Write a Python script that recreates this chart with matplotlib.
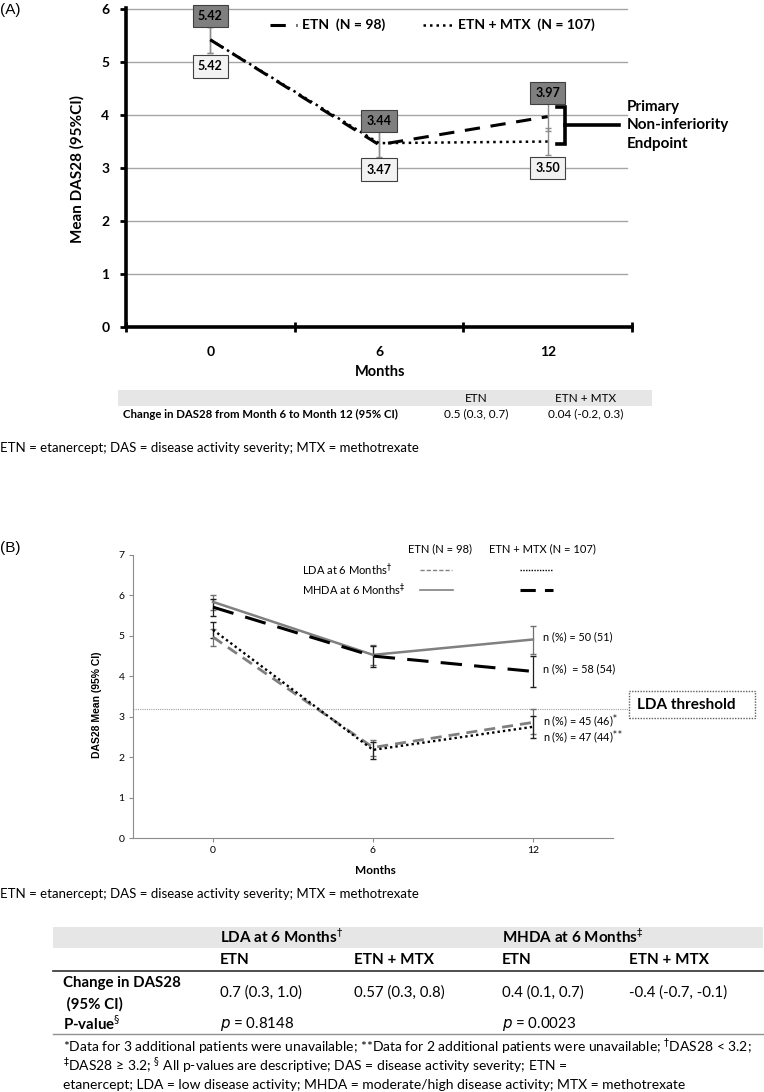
import matplotlib
matplotlib.use("Agg")
import matplotlib.pyplot as plt
from matplotlib.lines import Line2D
from matplotlib.patches import Rectangle

W, H = 764, 1092

# ---- panel A data
months = ["0", "6", "12"]
etn_mean = [5.42, 3.44, 3.97]
etn_lo = [5.17, 3.19, 3.70]
etn_hi = [5.67, 3.70, 4.24]
mtx_mean = [5.42, 3.47, 3.50]
mtx_lo = [5.17, 3.21, 3.24]
mtx_hi = [5.67, 3.73, 3.76]
legend_a = ["ETN  (N = 98)", "ETN + MTX  (N = 107)"]
tab_a_cols = ["ETN", "ETN + MTX"]
tab_a_row = "Change in DAS28 from Month 6 to Month 12 (95% CI)"
tab_a_vals = ["0.5 (0.3, 0.7)", "0.04 (-0.2, 0.3)"]

# ---- panel B data
lda_etn = [4.97, 2.24, 2.86]
lda_etn_lo = [4.74, 2.02, 2.58]
lda_etn_hi = [5.18, 2.42, 3.18]
lda_mtx = [5.15, 2.18, 2.75]
lda_mtx_lo = [4.95, 1.95, 2.48]
lda_mtx_hi = [5.34, 2.38, 3.03]
mhda_etn = [5.84, 4.53, 4.91]
mhda_etn_lo = [5.65, 4.28, 4.55]
mhda_etn_hi = [6.02, 4.78, 5.24]
mhda_mtx = [5.71, 4.50, 4.12]
mhda_mtx_lo = [5.50, 4.23, 3.73]
mhda_mtx_hi = [5.90, 4.75, 4.49]
n_labels = ["n (%) = 50 (51)", "n (%)  = 58 (54)",
            "n (%) = 45 (46)$^{*}$", "n (%) = 47 (44)$^{**}$"]
lda_threshold = 3.2

tab_b_groups = [r"LDA at 6 Months$^{\dagger}$", r"MHDA at 6 Months$^{\ddagger}$"]
tab_b_cols = ["ETN", "ETN + MTX", "ETN", "ETN + MTX"]
tab_b_change = ["0.7 (0.3, 1.0)", "0.57 (0.3, 0.8)", "0.4 (0.1, 0.7)", "-0.4 (-0.7, -0.1)"]
tab_b_p = [r"$p$ = 0.8148", r"$p$ = 0.0023"]

abbrev = "ETN = etanercept; DAS = disease activity severity; MTX = methotrexate"
notes_b = [
    r"*Data for 3 additional patients were unavailable; **Data for 2 additional patients were unavailable; $^{\dagger}$DAS28 < 3.2;",
    r"$^{\ddagger}$DAS28 ≥ 3.2; $^{\S}$ All p-values are descriptive; DAS = disease activity severity; ETN =",
    "etanercept; LDA = low disease activity; MHDA = moderate/high disease activity; MTX = methotrexate",
]

plt.rcParams["font.family"] = ["Lato", "DejaVu Sans"]

fig = plt.figure(figsize=(W / 100, H / 100), dpi=100)


def ftext(x, y, s, **kw):
    return fig.text(x / W, 1 - y / H, s, **kw)


def fline(xs, ys, **kw):
    fig.add_artist(Line2D([x / W for x in xs], [1 - y / H for y in ys],
                          transform=fig.transFigure, **kw))


def fbox(x0, y0, x1, y1, **kw):
    fig.add_artist(Rectangle((x0 / W, 1 - y1 / H), (x1 - x0) / W, (y1 - y0) / H,
                             transform=fig.transFigure, **kw))


x = [0, 1, 2]

# ================= panel A =================
ftext(0, 10, "(A)", fontsize=11, family="Liberation Sans", va="center")
axA = fig.add_axes([126 / W, 1 - 327 / H, (632 - 126) / W, (327 - 8) / H])
axA.set_xlim(-0.5, 2.5)
axA.set_ylim(0, 6.02)
for v in range(1, 7):
    axA.axhline(v, xmax=0.99, color="#a6a6a6", lw=1, zorder=0)
for s in ["top", "right"]:
    axA.spines[s].set_visible(False)
for s in ["left", "bottom"]:
    axA.spines[s].set_linewidth(2.6)
axA.set_xticks(x)
axA.set_xticklabels(months, fontsize=10, weight="bold")
axA.set_xticks([-0.5, 0.5, 1.5, 2.5], minor=True)
axA.tick_params(axis="x", which="major", length=0, pad=14)
axA.tick_params(axis="x", which="minor", length=7, width=2, direction="inout")
axA.set_yticks(range(7))
axA.set_yticklabels([str(v) for v in range(7)], fontsize=10, weight="bold")
axA.tick_params(axis="y", length=4, width=2, pad=8)

axA.errorbar(x, etn_mean, yerr=[[m - l for m, l in zip(etn_mean, etn_lo)],
                                [h - m for m, h in zip(etn_mean, etn_hi)]],
             fmt="none", ecolor="#8c8c8c", elinewidth=1, capsize=2.5, zorder=2)
axA.errorbar(x, mtx_mean, yerr=[[m - l for m, l in zip(mtx_mean, mtx_lo)],
                                [h - m for m, h in zip(mtx_mean, mtx_hi)]],
             fmt="none", ecolor="#8c8c8c", elinewidth=1, capsize=2.5, zorder=2)
axA.plot(x, etn_mean, color="black", lw=2.2, dashes=(5, 3.5), zorder=3)
axA.plot(x, mtx_mean, color="black", lw=1.8, ls=(0, (1, 1.6)), zorder=3)

for xi, v in zip(x, etn_mean):
    axA.text(xi, v + 0.45, f"{v:.2f}", ha="center", va="center", fontsize=9,
             weight="bold", zorder=5,
             bbox=dict(boxstyle="square,pad=0.42", fc="#7f7f7f", ec="#404040", lw=0.8))
for xi, v in zip(x, mtx_mean):
    axA.text(xi, v - 0.5, f"{v:.2f}", ha="center", va="center", fontsize=9,
             weight="bold", zorder=5,
             bbox=dict(boxstyle="square,pad=0.42", fc="#f2f2f2", ec="#404040", lw=0.8))

# legend A
axA.plot([0.354, 0.514], [5.70, 5.70], color="black", lw=2.2, dashes=(5, 3.5))
axA.text(0.545, 5.70, legend_a[0], va="center", fontsize=10, weight="bold")
axA.plot([1.26, 1.45], [5.70, 5.70], color="black", lw=1.8, ls=(0, (1, 1.6)))
axA.text(1.47, 5.70, legend_a[1], va="center", fontsize=10, weight="bold")

# bracket for the primary endpoint
yb_top, yb_bot = etn_mean[2] + 0.19, mtx_mean[2] - 0.05
yb_mid = (yb_top + yb_bot) / 2
axA.plot([2.055, 2.10, 2.10, 2.055], [yb_top, yb_top, yb_bot, yb_bot],
         color="black", lw=2.6, clip_on=False, solid_joinstyle="miter")
axA.plot([2.10, 2.42], [yb_mid, yb_mid], color="black", lw=2.6, clip_on=False)
axA.text(2.47, yb_mid, "Primary\nNon-inferiority\nEndpoint", va="center", ha="left",
         fontsize=11, weight="bold", linespacing=1.4)

ftext(77, 169, "Mean DAS28 (95%CI)", rotation=90, ha="center", va="center",
      fontsize=11, weight="bold")
ftext(380, 372, "Months", ha="center", va="center", fontsize=10.5, weight="bold")

# table A
fbox(118, 390, 652, 406, fc="#e6e6e6", ec="none")
for cx, c in zip([476, 586], tab_a_cols):
    ftext(cx, 398, c, ha="center", va="center", fontsize=8.5)
ftext(123, 414, tab_a_row, va="center", fontsize=8.2, weight="bold")
for cx, c in zip([476, 586], tab_a_vals):
    ftext(cx, 414, c, ha="center", va="center", fontsize=8.5)
ftext(0, 448, abbrev, va="center", fontsize=9.5)

# ================= panel B =================
ftext(0, 548, "(B)", fontsize=11, family="Liberation Sans", va="center")
axB = fig.add_axes([133 / W, 1 - 838 / H, (613 - 133) / W, (838 - 555) / H])
axB.set_xlim(-0.5, 2.5)
axB.set_ylim(0, 7)
for s in ["top", "right"]:
    axB.spines[s].set_visible(False)
for s in ["left", "bottom"]:
    axB.spines[s].set_color("#8c8c8c")
    axB.spines[s].set_linewidth(0.8)
axB.set_xticks(x)
axB.set_xticklabels(months, fontsize=7.5)
axB.set_yticks(range(8))
axB.set_yticklabels([str(v) for v in range(8)], fontsize=7.5)
axB.tick_params(length=3, width=0.8, color="#8c8c8c", pad=3)

series = [
    (lda_etn, lda_etn_lo, lda_etn_hi, dict(color="#808080", lw=2.0, dashes=(4, 2.5)), "#707070"),
    (lda_mtx, lda_mtx_lo, lda_mtx_hi, dict(color="black", lw=1.7, ls=(0, (1, 1.3))), "#202020"),
    (mhda_etn, mhda_etn_lo, mhda_etn_hi, dict(color="#808080", lw=1.8), "#707070"),
    (mhda_mtx, mhda_mtx_lo, mhda_mtx_hi, dict(color="black", lw=2.2, dashes=(7, 4)), "#202020"),
]
for mean, lo, hi, style, ec in series:
    axB.errorbar(x, mean, yerr=[[m - l for m, l in zip(mean, lo)],
                                [h - m for m, h in zip(mean, hi)]],
                 fmt="none", ecolor=ec, elinewidth=0.9, capsize=2, zorder=2)
    axB.plot(x, mean, zorder=3, **style)

n_y = [mhda_etn[2] + 0.06, mhda_mtx[2] + 0.06, lda_etn[2] + 0.03, lda_mtx[2] - 0.26]
for yy, s in zip(n_y, n_labels):
    axB.text(2.06, yy, s, va="center", fontsize=7.8)

axB.plot([-0.5, 2.60], [lda_threshold, lda_threshold], color="#a0a0a0", lw=0.8,
         ls=(0, (1, 1)), clip_on=False, zorder=1)
fbox(629, 691, 755, 718, fc="white", ec="#606060", lw=1, ls=(0, (1, 1)))
ftext(637, 705, "LDA threshold", va="center", fontsize=11, weight="bold")

# legend B
ftext(408, 549, "ETN (N = 98)", va="center", fontsize=8)
ftext(489, 549, "ETN + MTX (N = 107)", va="center", fontsize=8)
ftext(302, 570, r"LDA at 6 Months$^{\dagger}$", va="center", fontsize=8)
ftext(302, 590, r"MHDA at 6 Months$^{\ddagger}$", va="center", fontsize=8)
fline([420, 452], [570, 570], color="#808080", lw=1.0, dashes=(3, 1.5))
fline([520, 553], [570, 570], color="black", lw=1.0, ls=(0, (1, 1)))
fline([420, 453], [590, 590], color="#808080", lw=1.2)
fline([520, 553], [590, 590], color="black", lw=2.2, dashes=(5, 3))

ftext(97, 705, "DAS28 Mean (95% CI)", rotation=90, ha="center", va="center",
      fontsize=7.5, weight="bold", family="Liberation Sans")
ftext(375, 870, "Months", ha="center", va="center", fontsize=8.5, weight="bold")
ftext(0, 894, abbrev, va="center", fontsize=9.5)

# table B
fbox(53, 927, 763, 948, fc="#e6e6e6", ec="none")
for gx, g in zip([220, 502], tab_b_groups):
    ftext(gx, 937, g, va="center", fontsize=11, weight="bold")
col_x = [220, 354, 502, 629]
for cx, c in zip(col_x, tab_b_cols):
    ftext(cx, 960, c, va="center", fontsize=11, weight="bold")
fline([53, 763], [971, 971], color="#303030", lw=1.2)
ftext(63, 983, "Change in DAS28", va="center", fontsize=10.8, weight="bold")
ftext(63, 1004, " (95% CI)", va="center", fontsize=10.8, weight="bold")
for cx, c in zip(col_x, tab_b_change):
    ftext(cx, 993, c, va="center", fontsize=10.8)
ftext(63, 1024, r"P-value$^{\S}$", va="center", fontsize=10.8, weight="bold")
for cx, c in zip([220, 502], tab_b_p):
    ftext(cx, 1024, c, va="center", fontsize=10.8)
fline([53, 763], [1034, 1034], color="#909090", lw=1.0)
for yy, s in zip([1047, 1066, 1085], notes_b):
    ftext(63, yy, s, va="center", fontsize=10)

fig.savefig("out.png", dpi=100)
